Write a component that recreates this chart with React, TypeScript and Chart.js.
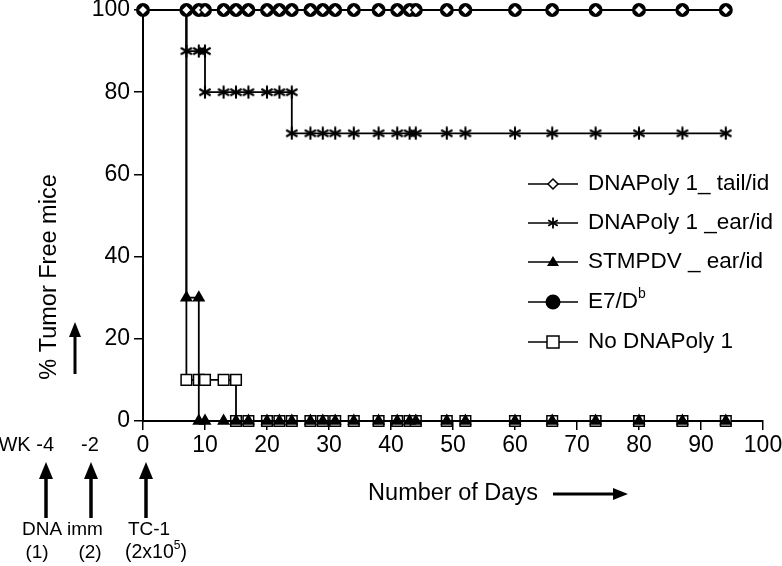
import React, { useEffect, useRef } from 'react';
import { Chart, registerables } from 'chart.js';
Chart.register(...registerables);

const FONT = '"Liberation Sans", Arial, sans-serif';

// Days on which observations were recorded
const tailDays = [0, 7, 9, 10, 13, 15, 17, 20, 22, 24, 27, 29, 31, 34, 38, 41, 43, 44, 49, 52, 60, 66, 73, 80, 87, 94];
const tailPct = [100, 100, 100, 100, 100, 100, 100, 100, 100, 100, 100, 100, 100, 100, 100, 100, 100, 100, 100, 100, 100, 100, 100, 100, 100, 100];

const earDays = [0, 7, 9, 10, 10, 13, 15, 17, 20, 22, 24, 24, 27, 29, 31, 34, 38, 41, 43, 44, 49, 52, 60, 66, 73, 80, 87, 94];
const earPct = [100, 90, 90, 90, 80, 80, 80, 80, 80, 80, 80, 70, 70, 70, 70, 70, 70, 70, 70, 70, 70, 70, 70, 70, 70, 70, 70, 70];

const stmDays = [0, 7, 9, 9, 10, 13, 15, 17, 20, 22, 24, 27, 29, 31, 34, 38, 41, 43, 44, 49, 52, 60, 66, 73, 80, 87, 94];
const stmPct = [100, 30, 30, 0, 0, 0, 0, 0, 0, 0, 0, 0, 0, 0, 0, 0, 0, 0, 0, 0, 0, 0, 0, 0, 0, 0, 0];

const e7Days = [0, 7, 9, 10, 13, 15, 17, 20, 22, 24, 27, 29, 31, 34, 38, 41, 43, 44, 49, 52, 60, 66, 73, 80, 87, 94];
const e7Pct = [100, 100, 100, 100, 100, 100, 100, 100, 100, 100, 100, 100, 100, 100, 100, 100, 100, 100, 100, 100, 100, 100, 100, 100, 100, 100];

const noDays = [0, 7, 9, 10, 13, 15, 15, 17, 20, 22, 24, 27, 29, 31, 34, 38, 41, 43, 44, 49, 52, 60, 66, 73, 80, 87, 94];
const noPct = [100, 10, 10, 10, 10, 10, 0, 0, 0, 0, 0, 0, 0, 0, 0, 0, 0, 0, 0, 0, 0, 0, 0, 0, 0, 0, 0];

const xTicks = [0, 10, 20, 30, 40, 50, 60, 70, 80, 90, 100];
const yTicks = [0, 20, 40, 60, 80, 100];

const legendLabels = ['DNAPoly 1_ tail/id', 'DNAPoly 1 _ear/id', 'STMPDV _ ear/id', 'E7/D', 'No DNAPoly 1'];

function toXY(xs: number[], ys: number[]) {
  return xs.map((x, i) => ({ x, y: ys[i] }));
}

function makeStar(size: number, lw: number) {
  const c = document.createElement('canvas');
  c.width = size;
  c.height = size;
  const g = c.getContext('2d')!;
  g.strokeStyle = '#000';
  g.lineWidth = lw;
  const cx = size / 2, cy = size / 2, r = size / 2 - 0.5;
  [90, 30, 150].forEach((deg) => {
    const a = (deg * Math.PI) / 180;
    g.beginPath();
    g.moveTo(cx - r * Math.cos(a), cy - r * Math.sin(a));
    g.lineTo(cx + r * Math.cos(a), cy + r * Math.sin(a));
    g.stroke();
  });
  return c;
}

function arrowUp(ctx: CanvasRenderingContext2D, x: number, yTip: number, yBottom: number, lw: number, hw: number, hh: number) {
  ctx.save();
  ctx.strokeStyle = '#000';
  ctx.fillStyle = '#000';
  ctx.lineWidth = lw;
  ctx.beginPath();
  ctx.moveTo(x, yBottom);
  ctx.lineTo(x, yTip + hh - 1);
  ctx.stroke();
  ctx.beginPath();
  ctx.moveTo(x, yTip);
  ctx.lineTo(x - hw / 2, yTip + hh);
  ctx.lineTo(x + hw / 2, yTip + hh);
  ctx.closePath();
  ctx.fill();
  ctx.restore();
}

function arrowRight(ctx: CanvasRenderingContext2D, xStart: number, xTip: number, y: number, lw: number, hw: number, hh: number) {
  ctx.save();
  ctx.strokeStyle = '#000';
  ctx.fillStyle = '#000';
  ctx.lineWidth = lw;
  ctx.beginPath();
  ctx.moveTo(xStart, y);
  ctx.lineTo(xTip - hh + 1, y);
  ctx.stroke();
  ctx.beginPath();
  ctx.moveTo(xTip, y);
  ctx.lineTo(xTip - hh, y - hw / 2);
  ctx.lineTo(xTip - hh, y + hw / 2);
  ctx.closePath();
  ctx.fill();
  ctx.restore();
}

function supText(ctx: CanvasRenderingContext2D, parts: { t: string; sup?: boolean }[], cx: number, cy: number, align: 'center' | 'left', size: number) {
  const big = `${size}px ${FONT}`;
  const small = `${Math.round(size * 0.62)}px ${FONT}`;
  let total = 0;
  parts.forEach((p) => {
    ctx.font = p.sup ? small : big;
    total += ctx.measureText(p.t).width;
  });
  let x = align === 'center' ? cx - total / 2 : cx;
  ctx.textAlign = 'left';
  ctx.textBaseline = 'middle';
  parts.forEach((p) => {
    ctx.font = p.sup ? small : big;
    ctx.fillText(p.t, x, p.sup ? cy - size * 0.37 : cy);
    x += ctx.measureText(p.t).width;
  });
}

export default function App() {
  const ref = useRef<HTMLCanvasElement>(null);

  useEffect(() => {
    document.body.style.margin = '0';
    const star = makeStar(14, 2.1);
    const starSmall = makeStar(12, 1.8);

    const annotations = {
      id: 'annotations',
      afterDraw(chart: any) {
        const ctx: CanvasRenderingContext2D = chart.ctx;
        ctx.save();
        ctx.fillStyle = '#000';
        ctx.textBaseline = 'middle';

        // Y axis title
        ctx.font = `23.5px ${FONT}`;
        ctx.save();
        ctx.translate(50, 277);
        ctx.rotate(-Math.PI / 2);
        ctx.textAlign = 'center';
        ctx.fillText('% Tumor Free mice', 0, 0);
        ctx.restore();
        arrowUp(ctx, 75, 322, 374, 3, 12, 15);

        // X axis title with arrow
        ctx.textAlign = 'center';
        ctx.fillText('Number of Days', 453, 494);
        arrowRight(ctx, 553, 628, 494, 3, 12, 15);

        // Timeline annotations
        ctx.font = `20px ${FONT}`;
        ctx.textAlign = 'right';
        ctx.fillText('WK -4', 54, 445);
        ctx.textAlign = 'center';
        ctx.fillText('-2', 90, 445);
        arrowUp(ctx, 46, 462, 518, 3.5, 14, 17);
        arrowUp(ctx, 91, 462, 518, 3.5, 14, 17);
        arrowUp(ctx, 146, 462, 518, 3.5, 14, 17);
        ctx.font = `19px ${FONT}`;
        ctx.fillText('DNA', 42, 530);
        ctx.fillText('imm', 85, 530);
        ctx.fillText('TC-1', 149, 530);
        ctx.fillText('(1)', 37, 553);
        ctx.fillText('(2)', 90, 553);
        supText(ctx, [{ t: '(2x10' }, { t: '5', sup: true }, { t: ')' }], 156, 553, 'center', 19.5);

        // Legend
        const rows = [184, 223, 262, 302, 342];
        const lx0 = 528, lx1 = 578, mx = 553, tx = 588;
        rows.forEach((y, i) => {
          ctx.save();
          ctx.strokeStyle = '#000';
          ctx.lineWidth = 1.5;
          ctx.beginPath();
          ctx.moveTo(lx0, y);
          ctx.lineTo(lx1, y);
          ctx.stroke();
          ctx.fillStyle = '#000';
          if (i === 0) {
            ctx.fillStyle = '#fff';
            ctx.beginPath();
            ctx.moveTo(mx, y - 5);
            ctx.lineTo(mx + 5, y);
            ctx.lineTo(mx, y + 5);
            ctx.lineTo(mx - 5, y);
            ctx.closePath();
            ctx.fill();
            ctx.stroke();
          } else if (i === 1) {
            ctx.drawImage(starSmall, mx - 6, y - 6);
          } else if (i === 2) {
            ctx.beginPath();
            ctx.moveTo(mx, y - 6);
            ctx.lineTo(mx + 6, y + 4);
            ctx.lineTo(mx - 6, y + 4);
            ctx.closePath();
            ctx.fill();
          } else if (i === 3) {
            ctx.beginPath();
            ctx.arc(mx, y, 7.5, 0, Math.PI * 2);
            ctx.fill();
          } else {
            ctx.fillStyle = '#fff';
            ctx.fillRect(mx - 6, y - 6, 12, 12);
            ctx.strokeRect(mx - 6, y - 6, 12, 12);
          }
          ctx.restore();
          ctx.fillStyle = '#000';
          if (i === 3) {
            supText(ctx, [{ t: legendLabels[i] }, { t: 'b', sup: true }], tx, y, 'left', 22.5);
          } else {
            ctx.font = `22.5px ${FONT}`;
            ctx.textAlign = 'left';
            ctx.textBaseline = 'middle';
            ctx.fillText(legendLabels[i], tx, y);
          }
        });
        ctx.restore();
      },
    };

    const common = {
      borderColor: '#000',
      borderWidth: 1.8,
      stepped: 'before' as const,
      fill: false,
      clip: false as any,
      pointBorderColor: '#000',
    };

    const chart = new Chart(ref.current!, {
      type: 'line',
      data: {
        datasets: [
          {
            ...common,
            label: legendLabels[0],
            data: toXY(tailDays, tailPct),
            pointStyle: 'rectRot',
            pointRadius: 5,
            pointBackgroundColor: '#fff',
            pointBorderWidth: 1.5,
          },
          {
            ...common,
            label: legendLabels[1],
            data: toXY(earDays, earPct),
            pointStyle: star as any,
            pointRadius: (c: any) => (c.dataIndex === 0 ? 0 : 6),
          },
          {
            ...common,
            label: legendLabels[2],
            data: toXY(stmDays, stmPct),
            pointStyle: 'triangle',
            pointRadius: (c: any) => (c.dataIndex === 0 ? 0 : 7.5),
            pointBackgroundColor: '#000',
            pointBorderWidth: 0,
          },
          {
            ...common,
            label: legendLabels[3],
            data: toXY(e7Days, e7Pct),
            pointStyle: 'circle',
            pointRadius: 7,
            pointBackgroundColor: '#000',
            pointBorderWidth: 0,
          },
          {
            ...common,
            label: legendLabels[4],
            data: toXY(noDays, noPct),
            pointStyle: 'rect',
            pointRadius: (c: any) => (c.dataIndex === 0 ? 0 : 7.5),
            pointBackgroundColor: '#fff',
            pointBorderWidth: 1.5,
          },
        ],
      },
      options: {
        animation: false,
        responsive: false,
        events: [],
        layout: { padding: { left: 0, right: 19, top: 10, bottom: 0 } },
        plugins: { legend: { display: false }, tooltip: { enabled: false } },
        scales: {
          x: {
            type: 'linear',
            min: 0,
            max: 100,
            afterBuildTicks: (s: any) => {
              s.ticks = xTicks.map((v) => ({ value: v }));
            },
            ticks: { color: '#000', font: { family: FONT, size: 23 }, padding: 2, maxRotation: 0, autoSkip: false },
            grid: { drawOnChartArea: false, drawTicks: true, tickLength: 9, color: '#000', lineWidth: 1.5 },
            border: { color: '#000', width: 2 },
            afterFit: (s: any) => {
              s.height = 145;
              s.paddingLeft = 0;
              s.paddingRight = 0;
            },
          },
          y: {
            type: 'linear',
            min: 0,
            max: 100,
            afterBuildTicks: (s: any) => {
              s.ticks = yTicks.map((v) => ({ value: v }));
            },
            ticks: { color: '#000', font: { family: FONT, size: 23 }, padding: 4 },
            grid: { drawOnChartArea: false, drawTicks: true, tickLength: 9, color: '#000', lineWidth: 1.5 },
            border: { color: '#000', width: 2 },
            afterFit: (s: any) => {
              s.width = 143;
              s.paddingTop = 0;
              s.paddingBottom = 0;
            },
          },
        },
      },
      plugins: [annotations],
    });
    return () => chart.destroy();
  }, []);

  return (
    <div style={{ position: 'fixed', left: 0, top: 0, width: 782, height: 566, background: '#fff' }}>
      <canvas ref={ref} width={782} height={566} style={{ width: 782, height: 566 }} />
    </div>
  );
}
